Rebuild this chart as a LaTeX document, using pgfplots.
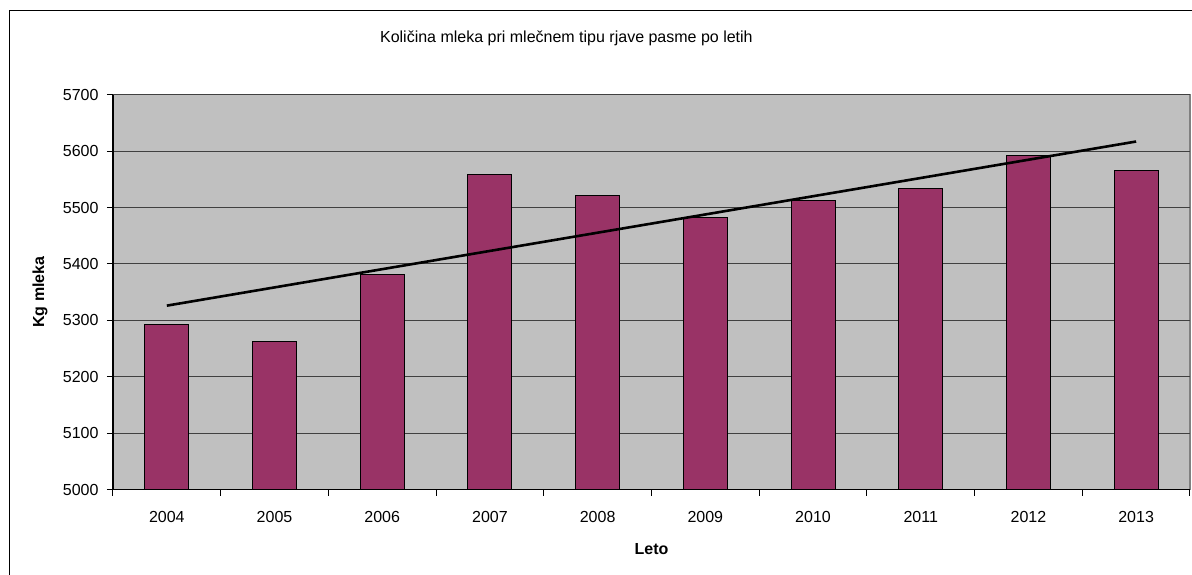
\documentclass[border=0pt]{standalone}
\usepackage{pgfplots}
\pgfplotsset{compat=1.18}
\usepackage{fontspec}
\setmainfont{Liberation Sans}
\definecolor{barc}{HTML}{993366}
\definecolor{bgc}{HTML}{C0C0C0}
\definecolor{gridc}{HTML}{404040}
\begin{document}
\begin{tikzpicture}
\useasboundingbox (0pt,0pt) rectangle (1192pt,-575pt);
\draw[black, line width=1.2pt] (9.8pt,-600pt) -- (9.8pt,-10.6pt) -- (1210pt,-10.6pt);
\begin{axis}[
  at={(113pt,-489.5pt)}, anchor=south west,
  scale only axis, width=1077pt, height=394.8pt,
  font=\fontsize{16}{19}\selectfont,
  /pgf/number format/assume math mode=true,
  /pgf/number format/1000 sep={},
  xmin=-0.5, xmax=9.5, ymin=5000, ymax=5700,
  ytick={5000,5100,...,5700},
  xtick={0,...,9},
  xticklabels={2004,2005,2006,2007,2008,2009,2010,2011,2012,2013},
  minor xtick={-0.5,0.5,...,9.5},
  major x tick style={draw=none},
  minor x tick style={black, line width=1pt},
  ytick style={black, line width=1pt},
  tick align=outside,
  major tick length=6pt, minor tick length=6pt,
  axis x line*=bottom, axis y line*=left,
  axis line style={-, black, line width=1.2pt},
  axis background/.style={fill=bgc, draw=gray, line width=1.5pt},
  ymajorgrids, grid style={gridc, line width=1pt},
  xticklabel style={yshift=-12pt},
  yticklabel style={xshift=-5pt},
  xlabel={\textbf{Leto}},
  xlabel style={at={(axis description cs:0.5,0)}, anchor=center, yshift=-59.5pt},
  ylabel={\textbf{Kg mleka}},
  ylabel style={at={(axis description cs:0,0.5)}, anchor=center, yshift=73pt},
  title={Količina mleka pri mlečnem tipu rjave pasme po letih},
  title style={at={(axis description cs:0.421,1)}, anchor=center, yshift=50.7pt},
  clip=false,
]
\addplot[ybar, bar width=44pt, fill=barc, draw=black, line width=1pt] coordinates {
  (0,5292) (1,5262) (2,5382) (3,5559) (4,5522)
  (5,5482) (6,5512) (7,5533) (8,5592) (9,5565)
};
\addplot[black, line width=2.6pt, no marks] coordinates {
  (0,5326) (9,5617)
};
\end{axis}
\end{tikzpicture}
\end{document}
